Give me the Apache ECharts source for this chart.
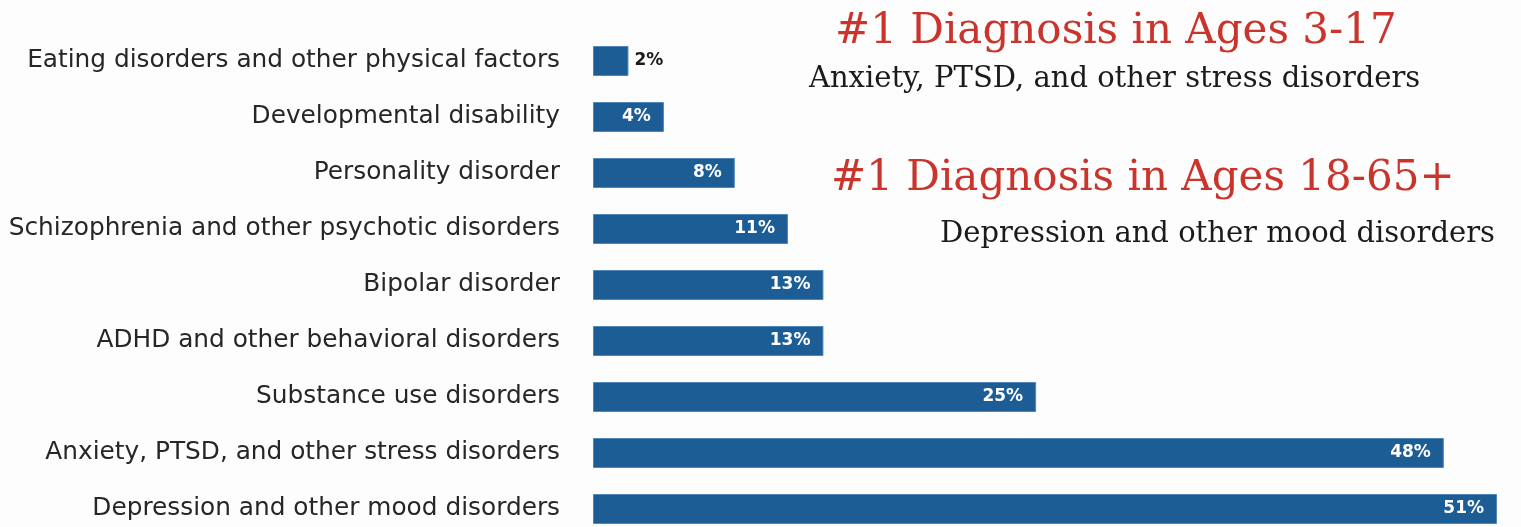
<!DOCTYPE html>
<html>
<head>
<meta charset="utf-8">
<script src="https://cdn.jsdelivr.net/npm/echarts@6/dist/echarts.min.js"></script>
<style>
  html, body { margin: 0; padding: 0; background: #fdfdfd; overflow: hidden; }
  #chart { width: 1521px; height: 545px; }
</style>
</head>
<body>
<div id="chart"></div>
<script>
// categories top to bottom
var categories = [
  'Eating disorders and other physical factors',
  'Developmental disability',
  'Personality disorder',
  'Schizophrenia and other psychotic disorders',
  'Bipolar disorder',
  'ADHD and other behavioral disorders',
  'Substance use disorders',
  'Anxiety, PTSD, and other stress disorders',
  'Depression and other mood disorders'
];
var percents = [2, 4, 8, 11, 13, 13, 25, 48, 51];

var headline1 = '#1 Diagnosis in Ages 3-17';
var sub1 = 'Anxiety, PTSD, and other stress disorders';
var headline2 = '#1 Diagnosis in Ages 18-65+';
var sub2 = 'Depression and other mood disorders';

var chart = echarts.init(document.getElementById('chart'));

var barData = percents.map(function (v) {
  // tiny bars get their label outside
  if (v < 3) {
    return { value: v, label: { position: 'right', color: '#1a1a1a', distance: 6 } };
  }
  return v;
});

var redStyle = { fontFamily: 'DejaVu Serif', fontSize: 42, fontWeight: 'normal', color: '#c9352c' };
var blackStyle = { fontFamily: 'DejaVu Serif', fontSize: 29, fontWeight: 'normal', color: '#1b1b1b' };

chart.setOption({
  backgroundColor: '#fdfdfd',
  title: [
    { text: headline1, left: 830, top: 6, textStyle: redStyle },
    { text: sub1, left: 804, top: 60, textStyle: blackStyle },
    { text: headline2, left: 826, top: 153, textStyle: redStyle },
    { text: sub2, left: 935, top: 215, textStyle: blackStyle }
  ],
  grid: { left: 593, right: 24, top: 33, bottom: 8, containLabel: false },
  xAxis: {
    type: 'value',
    min: 0,
    max: 51,
    show: false
  },
  yAxis: {
    type: 'category',
    data: categories,
    inverse: true,
    axisLine: { show: false },
    axisTick: { show: false },
    splitLine: { show: false },
    axisLabel: {
      margin: 33,
      fontFamily: 'DejaVu Sans',
      fontSize: 24.8,
      color: '#262626'
    }
  },
  series: [{
    type: 'bar',
    data: barData,
    barWidth: 30,
    itemStyle: { color: '#1d5d96', borderColor: '#4f86b8', borderWidth: 1 },
    label: {
      show: true,
      position: 'insideRight',
      distance: 13,
      formatter: '{c}%',
      fontFamily: 'DejaVu Sans',
      fontWeight: 'bold',
      fontSize: 17,
      color: '#ffffff'
    },
    animation: false
  }]
});
</script>
</body>
</html>
